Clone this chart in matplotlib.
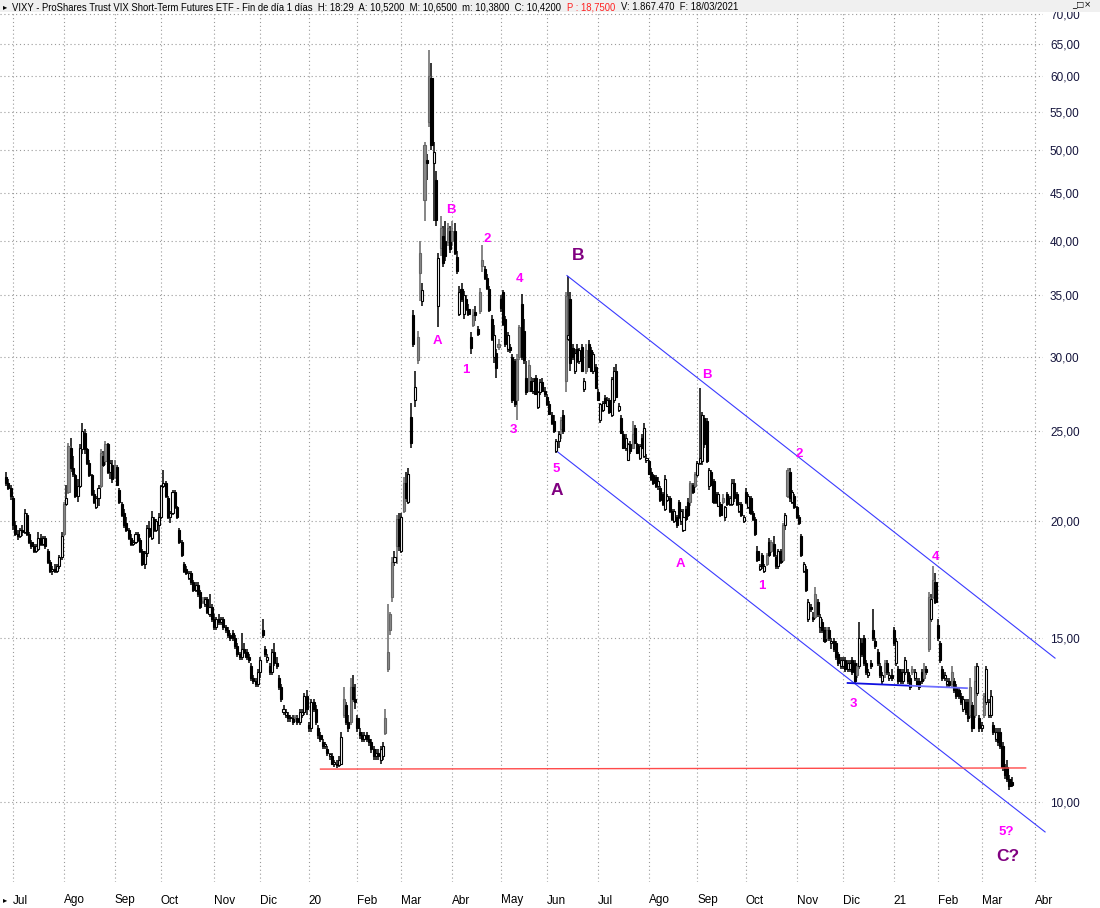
import matplotlib
matplotlib.use("Agg")
import matplotlib.pyplot as plt
from matplotlib.patches import Rectangle
from matplotlib.ticker import FixedLocator, NullLocator

plt.rcParams['font.family'] = ['Liberation Sans', 'DejaVu Sans']

# velas diarias VIXY (open, high, low, close), un bloque por mes
jun19 = [(22.3, 22.6, 21.8, 22.0), (22.0, 22.2, 21.6, 21.7), (21.7, 21.9, 21.1, 21.3)]
jul19 = [(21.2, 21.3, 19.6, 19.8), (19.8, 20.0, 19.3, 19.4), (19.4, 19.6, 19.1, 19.3), (19.3, 19.7, 19.2, 19.6),
         (19.6, 19.8, 19.3, 19.5), (19.5, 20.6, 19.4, 20.4), (20.3, 20.4, 19.3, 19.4), (19.4, 19.5, 18.9, 19.0),
         (19.0, 19.1, 18.7, 18.8), (18.8, 18.9, 18.5, 18.6), (18.6, 18.9, 18.5, 18.8), (18.7, 19.5, 18.6, 19.2),
         (19.2, 19.4, 18.8, 18.9), (18.9, 19.3, 18.8, 19.2), (19.2, 19.3, 18.7, 18.8), (18.6, 18.7, 18.0, 18.1),
         (18.1, 18.2, 17.6, 17.7), (17.7, 17.9, 17.5, 17.8), (17.8, 18.0, 17.6, 17.7), (17.7, 18.0, 17.6, 17.9),
         (17.9, 18.4, 17.8, 18.3), (18.3, 19.5, 18.2, 19.3)]
ago19 = [(19.4, 21.0, 19.3, 20.9), (20.9, 21.9, 20.8, 21.2), (21.5, 24.3, 21.4, 24.1), (24.0, 24.6, 22.6, 22.8),
         (22.8, 23.5, 22.3, 22.5), (22.4, 22.5, 21.2, 21.3), (21.3, 22.2, 21.0, 21.8), (21.8, 24.2, 21.7, 24.0),
         (23.9, 25.5, 23.6, 25.0), (24.9, 25.1, 23.6, 23.9), (23.9, 24.0, 23.0, 23.1), (23.1, 23.3, 22.3, 22.4),
         (22.4, 22.5, 21.3, 21.4), (21.4, 21.6, 20.9, 21.0), (20.7, 21.3, 20.6, 21.2), (21.2, 21.9, 20.8, 21.7),
         (21.8, 23.9, 21.7, 23.7), (23.5, 23.8, 22.9, 23.0), (23.2, 24.4, 23.0, 24.2), (24.2, 24.3, 22.5, 22.6),
         (22.6, 23.3, 22.2, 23.1), (23.0, 23.3, 22.0, 22.2)]
sep19 = [(22.3, 23.3, 22.2, 23.0), (22.9, 23.0, 21.8, 21.9), (21.6, 21.7, 20.9, 21.0), (20.9, 21.0, 20.2, 20.3),
         (20.4, 20.6, 19.7, 19.8), (19.9, 20.2, 19.5, 19.6), (19.6, 19.7, 19.1, 19.2), (19.2, 19.4, 18.8, 18.9),
         (18.9, 19.1, 18.8, 19.0), (19.0, 19.5, 18.9, 19.4), (19.4, 19.5, 19.0, 19.1), (19.1, 19.2, 18.5, 18.6),
         (18.6, 18.7, 17.9, 18.0), (18.0, 18.6, 17.8, 18.5), (18.5, 19.8, 18.3, 19.7), (19.7, 20.0, 19.2, 19.3),
         (19.2, 20.5, 19.1, 20.2), (20.1, 20.2, 19.5, 19.6), (19.6, 20.1, 19.5, 20.0), (19.8, 20.4, 18.9, 20.2)]
oct19 = [(20.2, 21.9, 20.1, 21.8), (21.8, 22.7, 21.7, 22.0), (22.0, 22.1, 21.2, 21.3), (21.2, 21.3, 20.1, 20.2),
         (20.2, 20.5, 19.9, 20.4), (20.4, 21.6, 20.3, 21.5), (21.5, 21.6, 20.6, 20.7), (20.7, 20.8, 20.1, 20.2),
         (19.6, 19.7, 18.9, 19.0), (19.0, 19.1, 18.3, 18.4), (18.0, 18.1, 17.6, 17.7), (17.8, 17.9, 17.5, 17.6),
         (17.4, 17.7, 17.3, 17.6), (17.6, 17.7, 17.1, 17.2), (17.2, 17.3, 16.8, 16.9), (16.9, 17.2, 16.8, 17.1),
         (17.1, 17.2, 16.6, 16.7), (16.8, 16.9, 16.1, 16.2), (16.4, 16.6, 16.3, 16.4), (16.3, 16.6, 16.2, 16.5),
         (16.5, 16.6, 15.9, 16.0), (15.9, 16.7, 15.8, 16.2), (16.2, 16.3, 15.6, 15.7)]
nov19 = [(15.7, 15.9, 15.3, 15.4), (15.4, 15.8, 15.3, 15.7), (15.7, 15.9, 15.5, 15.6), (15.6, 15.8, 15.5, 15.7),
         (15.7, 15.8, 15.3, 15.4), (15.4, 15.5, 15.2, 15.3), (15.3, 15.4, 15.0, 15.1), (15.1, 15.2, 14.9, 15.0),
         (15.2, 15.3, 14.9, 15.0), (15.0, 15.1, 14.6, 14.7), (14.7, 14.8, 14.3, 14.4), (14.4, 14.5, 14.2, 14.3),
         (14.3, 15.2, 14.2, 14.6), (14.6, 14.8, 14.4, 14.5), (14.5, 14.6, 14.2, 14.3), (14.3, 14.4, 14.1, 14.2),
         (14.0, 14.1, 13.5, 13.6), (13.6, 13.7, 13.4, 13.5), (13.5, 13.6, 13.3, 13.4), (13.4, 13.9, 13.3, 13.8)]
dic19 = [(13.8, 14.3, 13.6, 14.2), (15.3, 15.7, 15.0, 15.1), (14.6, 14.7, 14.3, 14.4), (14.2, 14.4, 14.1, 14.3),
         (14.0, 14.1, 13.7, 13.8), (13.8, 14.6, 13.7, 14.5), (14.5, 14.8, 14.0, 14.1), (14.1, 14.3, 13.9, 14.0),
         (13.6, 13.7, 13.2, 13.3), (13.3, 13.4, 12.8, 12.9), (12.5, 12.7, 12.4, 12.6), (12.4, 12.6, 12.3, 12.5),
         (12.4, 12.5, 12.2, 12.3), (12.3, 12.4, 12.2, 12.3), (12.3, 12.4, 12.1, 12.2), (12.3, 12.4, 12.2, 12.3),
         (12.3, 12.4, 12.1, 12.2), (12.2, 12.6, 12.1, 12.5), (12.4, 12.6, 12.3, 12.5), (12.5, 13.1, 12.4, 13.0),
         (13.0, 13.2, 12.4, 12.6)]
ene20 = [(12.1, 12.2, 11.9, 12.0), (12.0, 12.9, 11.9, 12.8), (12.8, 12.9, 12.5, 12.6), (12.6, 12.7, 12.1, 12.2),
         (12.0, 12.1, 11.7, 11.8), (11.8, 11.9, 11.6, 11.7), (11.6, 11.7, 11.4, 11.5), (11.5, 11.6, 11.4, 11.5),
         (11.4, 11.5, 11.2, 11.3), (11.2, 11.3, 11.1, 11.2), (11.2, 11.3, 11.0, 11.0), (11.0, 11.1, 10.9, 11.0),
         (11.0, 11.1, 10.87, 10.95), (10.95, 11.2, 10.9, 11.1), (11.0, 11.9, 10.95, 11.75), (12.4, 13.3, 12.3, 12.9),
         (12.7, 12.8, 12.1, 12.2), (12.2, 12.4, 11.9, 12.0), (12.2, 13.6, 12.1, 13.3), (13.3, 13.7, 12.8, 12.9),
         (12.9, 13.4, 12.6, 12.8)]
feb20 = [(12.3, 12.4, 11.9, 12.0), (11.9, 12.0, 11.7, 11.8), (11.8, 11.9, 11.6, 11.7), (11.7, 11.9, 11.6, 11.8),
         (11.8, 11.9, 11.6, 11.7), (11.7, 11.8, 11.5, 11.6), (11.6, 11.7, 11.3, 11.4), (11.4, 11.5, 11.1, 11.2),
         (11.2, 11.4, 11.1, 11.3), (11.3, 11.4, 11.1, 11.2), (11.1, 11.5, 11.0, 11.4), (11.2, 11.6, 11.1, 11.5),
         (11.85, 12.6, 11.8, 12.3), (13.9, 16.3, 13.8, 14.5), (15.3, 16.0, 15.1, 15.9), (16.6, 18.3, 16.4, 18.1),
         (18.1, 18.6, 17.9, 18.3), (18.8, 20.3, 18.0, 20.1), (20.1, 20.4, 18.6, 18.8)]
mar20 = [(18.6, 20.4, 18.5, 20.2), (20.5, 22.3, 20.4, 22.0), (22.0, 22.6, 21.0, 21.2), (21.0, 22.8, 20.9, 22.5),
         (25.9, 26.8, 24.0, 24.3), (33.3, 33.7, 30.8, 31.0), (27.0, 29.0, 26.5, 27.9), (29.8, 32.0, 29.5, 31.5),
         (36.9, 40.0, 34.5, 38.8), (34.5, 36.0, 34.0, 35.4), (44.2, 51.0, 42.0, 50.6), (48.8, 49.5, 46.5, 48.5),
         (53.6, 64.0, 53.0, 60.0), (59.8, 62.0, 50.0, 50.6), (48.5, 51.0, 42.0, 49.8), (46.5, 47.5, 41.5, 42.1),
         (34.0, 38.8, 32.3, 38.3), (39.3, 42.5, 38.5, 41.3), (40.5, 41.5, 37.5, 37.9), (40.0, 42.0, 38.0, 38.5),
         (39.9, 41.8, 39.5, 41.3), (41.0, 41.5, 38.8, 39.2)]
abr20 = [(40.0, 42.0, 39.5, 41.0), (41.0, 41.8, 38.6, 38.8), (38.4, 39.0, 36.8, 37.1), (33.4, 35.8, 33.2, 35.2),
         (35.5, 36.0, 34.4, 34.6), (33.4, 35.3, 33.0, 35.0), (34.6, 35.0, 33.6, 33.8), (33.8, 34.2, 33.2, 33.4),
         (31.5, 31.9, 30.2, 30.7), (32.5, 33.8, 32.3, 33.3), (33.5, 34.0, 32.8, 33.3), (32.2, 32.4, 31.6, 31.8),
         (33.6, 35.6, 33.4, 35.2), (37.6, 39.6, 37.0, 38.1), (37.3, 37.6, 36.3, 36.5), (36.5, 36.8, 35.4, 35.6),
         (35.5, 35.8, 33.5, 33.7), (33.0, 33.3, 31.2, 31.4), (30.0, 32.5, 29.6, 31.7), (30.3, 30.6, 28.5, 29.2),
         (30.8, 31.4, 30.5, 31.0)]
may20 = [(34.6, 35.0, 33.5, 33.9), (35.2, 35.4, 32.4, 32.6), (33.0, 33.2, 30.8, 31.0), (30.6, 31.9, 30.4, 31.7),
         (30.8, 31.0, 30.3, 30.5), (30.0, 30.2, 26.8, 27.0), (29.7, 29.9, 26.5, 26.7), (27.0, 30.2, 25.7, 29.9),
         (30.0, 32.5, 29.8, 32.3), (34.2, 35.1, 29.8, 30.0), (32.0, 33.0, 29.5, 29.8), (28.5, 29.7, 27.3, 27.5),
         (27.6, 29.8, 27.5, 29.4), (28.3, 28.6, 27.5, 27.6), (27.6, 28.5, 27.4, 28.3), (28.5, 28.7, 27.3, 27.4),
         (26.5, 27.6, 26.4, 27.5), (27.5, 28.4, 27.3, 28.2), (28.2, 28.5, 27.5, 27.6), (27.6, 27.9, 27.2, 27.4)]
jun20 = [(27.2, 27.4, 26.6, 26.7), (26.7, 26.9, 26.0, 26.1), (26.0, 26.2, 25.4, 25.5), (25.6, 26.0, 24.9, 25.0),
         (23.8, 24.5, 23.7, 24.4), (24.4, 25.0, 24.0, 24.8), (25.1, 25.9, 24.5, 25.7), (26.0, 26.3, 24.8, 25.0),
         (28.3, 35.2, 27.5, 34.9), (31.4, 36.7, 31.2, 31.7), (34.6, 35.2, 29.0, 29.6), (30.7, 31.0, 29.8, 30.0),
         (29.0, 30.6, 28.8, 30.3), (30.6, 31.0, 29.6, 29.7), (29.7, 30.7, 29.5, 30.5), (30.8, 31.0, 28.9, 29.0),
         (27.7, 28.5, 27.5, 28.3), (29.0, 31.0, 28.8, 30.5), (31.0, 31.3, 29.2, 29.3), (30.5, 30.8, 28.9, 29.0),
         (29.0, 30.4, 28.8, 30.2), (29.3, 29.5, 27.7, 27.8)]
jul20 = [(27.5, 27.7, 26.9, 27.0), (25.7, 26.8, 25.5, 26.7), (26.3, 26.9, 26.2, 26.8), (27.1, 27.3, 26.7, 26.8),
         (26.6, 27.2, 26.5, 27.0), (27.0, 27.1, 26.1, 26.2), (26.0, 28.6, 25.9, 28.4), (27.0, 29.3, 26.8, 29.0),
         (29.0, 29.5, 27.1, 27.2), (26.3, 26.8, 26.2, 26.6), (25.8, 26.0, 24.8, 24.9), (24.8, 25.0, 23.9, 24.0),
         (24.0, 24.8, 23.8, 24.6), (23.3, 24.3, 23.2, 24.2), (24.2, 24.4, 23.6, 23.8), (24.0, 25.6, 23.9, 24.8),
         (25.2, 25.4, 24.2, 24.3), (24.2, 24.3, 23.6, 23.7), (23.4, 24.2, 23.3, 24.1), (24.6, 24.8, 23.9, 24.0),
         (23.5, 25.5, 23.4, 25.2), (23.3, 23.6, 23.1, 23.4)]
ago20 = [(23.2, 23.3, 22.4, 22.5), (22.6, 22.8, 22.1, 22.2), (22.4, 22.5, 21.9, 22.0), (22.3, 22.4, 21.7, 21.8),
         (21.8, 22.3, 21.6, 22.1), (21.7, 21.8, 21.0, 21.1), (21.4, 21.5, 20.8, 20.9), (20.6, 22.4, 20.5, 22.2),
         (21.1, 21.4, 21.0, 21.3), (21.2, 21.3, 20.4, 20.5), (20.5, 20.6, 20.0, 20.1), (20.0, 20.6, 19.9, 20.5),
         (20.2, 20.3, 19.7, 19.8), (21.0, 21.1, 20.1, 20.2), (20.0, 20.6, 19.8, 20.5), (19.6, 20.6, 19.5, 20.2),
         (20.6, 20.8, 20.0, 20.1), (21.0, 21.2, 20.2, 20.3), (21.0, 22.1, 20.8, 22.0), (21.9, 22.0, 21.4, 21.5),
         (21.8, 22.6, 21.7, 22.5)]
sep20 = [(22.4, 23.2, 22.3, 23.1), (23.1, 27.8, 23.0, 23.4), (23.2, 26.2, 23.0, 26.0), (25.8, 26.0, 24.0, 24.2),
         (25.6, 25.8, 23.1, 23.2), (21.8, 22.8, 21.6, 22.7), (22.6, 22.7, 21.8, 21.9), (22.1, 22.2, 20.9, 21.0),
         (21.4, 21.5, 20.9, 21.0), (20.8, 21.5, 20.7, 21.4), (20.9, 21.0, 20.2, 20.3), (21.0, 21.4, 20.9, 21.2),
         (20.2, 20.8, 20.0, 20.7), (21.4, 21.5, 20.8, 20.9), (20.9, 21.3, 20.8, 21.2), (20.9, 22.2, 20.8, 22.0),
         (22.0, 22.2, 21.0, 21.2), (21.4, 21.5, 20.8, 20.9), (20.5, 21.0, 20.4, 20.9), (20.9, 21.0, 20.2, 20.3),
         (20.0, 20.3, 19.9, 20.2)]
oct20 = [(21.5, 21.7, 20.9, 21.0), (20.7, 21.4, 20.6, 21.3), (21.2, 21.3, 20.3, 20.4), (20.4, 20.5, 20.0, 20.1),
         (20.1, 20.2, 19.3, 19.4), (18.6, 18.8, 18.1, 18.2), (17.8, 18.0, 17.7, 17.9), (18.4, 18.5, 17.8, 17.9),
         (17.7, 18.0, 17.6, 17.9), (18.0, 18.5, 17.9, 18.4), (19.0, 19.2, 18.3, 18.4), (18.6, 19.1, 18.5, 19.0),
         (18.9, 19.3, 18.3, 18.4), (18.3, 18.4, 17.8, 17.9), (17.9, 18.7, 17.8, 18.6), (18.6, 18.7, 18.0, 18.1),
         (18.2, 19.9, 18.1, 19.8), (19.8, 20.4, 19.6, 20.3), (21.3, 22.8, 21.2, 22.7), (22.6, 22.8, 21.0, 21.2),
         (21.0, 21.6, 20.9, 21.5), (21.3, 21.4, 20.6, 20.7)]
nov20 = [(20.7, 20.8, 20.1, 20.2), (20.2, 20.3, 19.8, 19.9), (19.3, 19.4, 18.3, 18.4), (17.7, 18.1, 17.6, 18.0),
         (17.8, 17.9, 16.8, 16.9), (15.7, 16.5, 15.6, 16.4), (16.2, 16.3, 16.0, 16.1), (15.8, 16.0, 15.6, 15.7),
         (15.8, 17.0, 15.7, 16.7), (16.4, 16.5, 15.8, 15.9), (15.4, 15.9, 15.2, 15.8), (15.6, 15.7, 15.2, 15.3),
         (15.3, 15.4, 14.8, 14.9), (15.0, 15.4, 14.9, 15.3), (15.3, 15.4, 14.9, 15.0), (14.8, 15.0, 14.6, 14.9),
         (14.9, 15.0, 14.5, 14.6), (14.8, 14.9, 14.2, 14.3), (14.4, 14.5, 14.0, 14.1), (14.0, 14.3, 13.9, 14.2)]
dic20 = [(14.0, 14.3, 13.9, 14.2), (14.2, 14.3, 13.8, 13.9), (13.9, 14.2, 13.8, 14.1), (13.9, 14.2, 13.8, 14.1),
         (14.2, 14.3, 13.7, 13.8), (14.1, 14.2, 13.4, 13.5), (13.7, 14.1, 13.6, 14.0), (14.0, 15.6, 13.9, 15.0),
         (14.8, 15.0, 14.3, 14.4), (15.0, 15.1, 14.0, 14.1), (14.1, 14.2, 13.7, 13.8), (13.7, 13.9, 13.6, 13.8),
         (14.1, 14.2, 13.9, 14.0), (15.3, 16.1, 14.9, 15.0), (14.9, 15.0, 14.6, 14.7), (14.5, 14.6, 14.0, 14.1),
         (14.0, 14.1, 13.6, 13.7), (13.5, 13.8, 13.4, 13.7), (13.8, 14.2, 13.6, 14.1), (14.1, 14.2, 13.7, 13.8),
         (13.6, 13.8, 13.5, 13.7), (13.7, 13.9, 13.5, 13.6)]
ene21 = [(15.3, 15.4, 14.7, 14.8), (14.1, 15.0, 14.0, 14.9), (13.9, 14.0, 13.4, 13.5), (13.8, 13.9, 13.4, 13.5),
         (13.5, 13.9, 13.4, 13.8), (13.8, 14.3, 13.7, 14.2), (13.8, 13.9, 13.4, 13.5), (13.6, 13.7, 13.2, 13.3),
         (13.8, 14.0, 13.7, 13.9), (13.6, 13.9, 13.5, 13.8), (13.5, 13.6, 13.3, 13.4), (13.5, 13.6, 13.2, 13.3),
         (13.8, 13.9, 13.4, 13.5), (13.6, 14.1, 13.5, 13.9), (13.9, 14.0, 13.7, 13.8), (14.6, 16.8, 14.5, 16.6),
         (15.7, 16.7, 15.6, 16.5), (16.6, 17.9, 16.5, 17.3), (17.2, 17.6, 16.3, 16.4)]
feb21 = [(15.5, 15.7, 14.9, 15.0), (14.8, 14.9, 14.1, 14.2), (13.9, 14.0, 13.5, 13.6), (13.6, 13.8, 13.5, 13.7),
         (13.4, 13.6, 13.3, 13.5), (13.5, 13.6, 13.3, 13.35), (13.4, 14.0, 13.3, 13.8), (13.5, 13.6, 13.1, 13.2),
         (13.3, 13.4, 12.9, 13.0), (13.2, 13.3, 12.9, 13.0), (13.0, 13.1, 12.7, 12.8), (12.6, 13.0, 12.5, 12.9),
         (12.8, 12.9, 12.4, 12.5), (12.8, 12.9, 12.2, 12.3), (12.4, 13.6, 12.3, 13.3), (12.7, 12.8, 11.9, 12.0),
         (12.4, 14.0, 12.3, 13.5), (13.1, 14.1, 13.0, 14.0), (12.3, 12.4, 11.9, 12.0)]
mar21 = [(12.0, 12.2, 11.9, 12.1), (12.4, 13.1, 12.3, 13.0), (12.8, 14.0, 12.7, 13.9), (12.4, 12.9, 12.3, 12.8),
         (12.4, 13.2, 12.3, 13.0), (12.1, 12.2, 11.8, 11.9), (11.7, 12.0, 11.6, 11.9), (11.9, 12.0, 11.5, 11.6),
         (11.9, 12.0, 11.4, 11.5), (11.5, 11.6, 10.8, 10.9), (10.9, 11.0, 10.6, 10.7), (10.9, 11.1, 10.5, 10.6),
         (10.6, 10.7, 10.3, 10.4), (10.52, 10.65, 10.38, 10.42)]

meses = [jun19, jul19, ago19, sep19, oct19, nov19, dic19, ene20, feb20, mar20, abr20, may20,
         jun20, jul20, ago20, sep20, oct20, nov20, dic20, ene21, feb21, mar21]
etiquetas_mes = ["Jul", "Ago", "Sep", "Oct", "Nov", "Dic", "20", "Feb", "Mar", "Abr", "May",
                 "Jun", "Jul", "Ago", "Sep", "Oct", "Nov", "Dic", "21", "Feb", "Mar", "Abr"]
dias_marzo_21 = 23
precios_y = [10, 15, 20, 25, 30, 35, 40, 45, 50, 55, 60, 65, 70]

# etiquetas de ondas: (texto, indice de sesion, precio, grande)
ondas = [("B", 192.4, 43.2, False), ("A", 186.8, 31.2, False), ("1", 198.9, 29.05, False),
         ("2", 208.0, 40.2, False), ("3", 219.3, 25.06, False), ("4", 221.9, 36.4, False),
         ("5", 237.9, 22.76, False), ("A", 238.3, 21.6, True), ("B", 247.4, 38.6, True),
         ("B", 303.2, 28.7, False), ("A", 291.5, 18.0, False), ("1", 326.9, 17.05, False),
         ("2", 343.0, 23.6, False), ("3", 366.3, 12.74, False), ("4", 402.2, 18.3, False),
         ("5?", 432.5, 9.29, False), ("C?", 433.4, 8.75, True)]

velas = [v for m in meses for v in m]
x = list(range(len(velas)))
o = [v[0] for v in velas]
h = [v[1] for v in velas]
l = [v[2] for v in velas]
c = [v[3] for v in velas]

inicio_mes = []
n = 0
for m in meses[:-1]:
    n += len(m)
    inicio_mes.append(n)
inicio_mes.append(inicio_mes[-1] + dias_marzo_21)

fig = plt.figure(figsize=(11, 9.08), dpi=100)
ax = fig.add_axes([0, 26 / 908, 1043 / 1100, 872 / 908])
ax.set_yscale("log")
ax.set_ylim(8.21, 70.7)
ax.set_xlim(-2.62, 448.5)

# colores: negra bajista, blanca alcista, gris alcista con hueco al alza
caras, bordes = [], []
for i in x:
    if c[i] < o[i]:
        caras.append("black")
        bordes.append("black")
    elif i > 0 and o[i] > c[i - 1]:
        caras.append("#8a8a8a")
        bordes.append("#666666")
    else:
        caras.append("white")
        bordes.append("black")

ax.vlines(x, l, h, colors=bordes, linewidth=1.1, zorder=2)
bajo = [min(a, b) for a, b in zip(o, c)]
alto = [max(abs(a - b), 0.05) for a, b in zip(o, c)]
ax.bar(x, alto, bottom=bajo, width=0.9, color=caras, edgecolor=bordes, linewidth=0.8, zorder=3)

# lineas de canal y soporte
ax.plot([242.6, 453.7], [36.7, 14.27], color="#3a3aff", lw=0.8, clip_on=False, zorder=4)
ax.plot([238.7, 449.4], [23.73, 9.29], color="#3a3aff", lw=0.8, clip_on=False, zorder=4)
ax.plot([364, 391], [13.42, 13.33], color="#1010e0", lw=1.3, zorder=4)
ax.plot([391, 415.6], [13.33, 13.25], color="#7070ff", lw=1.3, zorder=4)
ax.plot([136, 441], [10.85, 10.88], color="#ff4a4a", lw=1.0, zorder=4)

for txt, xi, yi, grande in ondas:
    ax.text(xi, yi, txt, ha="center", va="center", fontweight="bold",
            fontsize=12.5 if grande else 9.5,
            color="#800080" if grande else "#ff00ff", zorder=5)

# ejes
ax.yaxis.tick_right()
ax.yaxis.set_major_locator(FixedLocator(precios_y))
ax.yaxis.set_minor_locator(NullLocator())
ax.set_yticklabels(["%d,00" % p for p in precios_y], fontsize=8.5, color="#14143c")
ax.tick_params(axis="y", length=0, pad=5)
ax.set_xticks(inicio_mes)
ax.set_xticklabels(etiquetas_mes, ha="left", fontsize=8.5, color="black")
ax.tick_params(axis="x", length=0, pad=9)
ax.grid(True, linestyle=(0, (1, 2.5)), color="#9a9a9a", linewidth=0.8)
for s in ax.spines.values():
    s.set_visible(False)

# cabecera
fig.patches.append(Rectangle((0, 1 - 12 / 908), 1, 12 / 908, transform=fig.transFigure,
                             facecolor="#f0f0f0", edgecolor="none", zorder=1))
yt = 1 - 7 / 908
fig.text(3 / 1100, yt, "\u25b8", fontsize=6, va="center", family="DejaVu Sans", zorder=3)
partes = [("VIXY - ProShares Trust VIX Short-Term Futures ETF - Fin de día 1 días  H: 18:29  "
           "A: 10,5200  M: 10,6500  m: 10,3800  C: 10,4200", "black"),
          ("P : 18,7500", "#ff2020"),
          ("V: 1.867.470  F: 18/03/2021", "black")]
renderer = fig.canvas.get_renderer()
xpos = 12
for txt, col in partes:
    t = fig.text(xpos / 1100, yt, txt, fontsize=6.85, va="center", color=col, zorder=3)
    xpos = t.get_window_extent(renderer).x1 + 6
fig.text(1072 / 1100, 1 - 5 / 908, "_\u25a1\u00d7", fontsize=6, va="center", family="DejaVu Sans", zorder=3)
fig.text(3 / 1100, 1 - 900 / 908, "\u25b8", fontsize=6, va="center", family="DejaVu Sans")

fig.savefig("out.png", dpi=100)
